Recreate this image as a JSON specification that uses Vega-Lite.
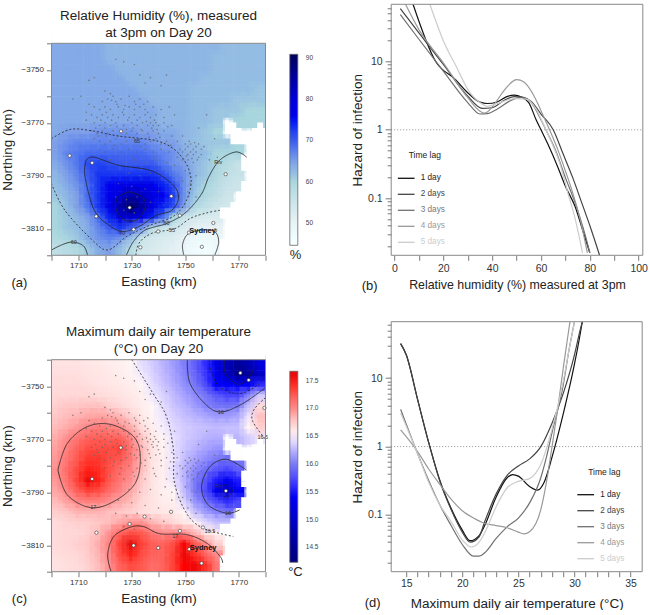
{"$schema":"https://vega.github.io/schema/vega-lite/v6.json","padding":{"left":0.5,"top":2.3,"right":0,"bottom":0},"background":"white","config":{"font":"Liberation Sans","view":{"stroke":null},"axis":{"domain":false,"grid":false,"tickColor":"#555","tickSize":5,"tickWidth":0.8,"labelColor":"#333","labelFontSize":8,"labelOverlap":false,"labelFlush":false,"labelBound":false,"titleFontSize":13.5,"titleFontWeight":"normal","titleColor":"#222","labelPadding":3}},
"datasets":{
"rh":[
{"x":1702,"y":-3742,"v":64},{"x":1706,"y":-3742,"v":64},{"x":1710,"y":-3742,"v":64},{"x":1714,"y":-3742,"v":64},{"x":1718,"y":-3742,"v":64},{"x":1722,"y":-3742,"v":63},{"x":1726,"y":-3742,"v":63},{"x":1730,"y":-3742,"v":63},{"x":1734,"y":-3742,"v":63},{"x":1738,"y":-3742,"v":63},{"x":1742,"y":-3742,"v":63},{"x":1746,"y":-3742,"v":63},{"x":1750,"y":-3742,"v":63},{"x":1754,"y":-3742,"v":63},{"x":1758,"y":-3742,"v":63},{"x":1762,"y":-3742,"v":63},{"x":1766,"y":-3742,"v":62},{"x":1770,"y":-3742,"v":62},{"x":1774,"y":-3742,"v":62},{"x":1778,"y":-3742,"v":62},
{"x":1702,"y":-3746,"v":64},{"x":1706,"y":-3746,"v":64},{"x":1710,"y":-3746,"v":64},{"x":1714,"y":-3746,"v":64},{"x":1718,"y":-3746,"v":64},{"x":1722,"y":-3746,"v":63},{"x":1726,"y":-3746,"v":63},{"x":1730,"y":-3746,"v":63},{"x":1734,"y":-3746,"v":63},{"x":1738,"y":-3746,"v":63},{"x":1742,"y":-3746,"v":63},{"x":1746,"y":-3746,"v":63},{"x":1750,"y":-3746,"v":63},{"x":1754,"y":-3746,"v":63},{"x":1758,"y":-3746,"v":63},{"x":1762,"y":-3746,"v":62},{"x":1766,"y":-3746,"v":62},{"x":1770,"y":-3746,"v":62},{"x":1774,"y":-3746,"v":62},{"x":1778,"y":-3746,"v":62},
{"x":1702,"y":-3750,"v":64},{"x":1706,"y":-3750,"v":64},{"x":1710,"y":-3750,"v":64},{"x":1714,"y":-3750,"v":64},{"x":1718,"y":-3750,"v":64},{"x":1722,"y":-3750,"v":64},{"x":1726,"y":-3750,"v":63},{"x":1730,"y":-3750,"v":63},{"x":1734,"y":-3750,"v":63},{"x":1738,"y":-3750,"v":63},{"x":1742,"y":-3750,"v":63},{"x":1746,"y":-3750,"v":63},{"x":1750,"y":-3750,"v":63},{"x":1754,"y":-3750,"v":63},{"x":1758,"y":-3750,"v":63},{"x":1762,"y":-3750,"v":62},{"x":1766,"y":-3750,"v":62},{"x":1770,"y":-3750,"v":62},{"x":1774,"y":-3750,"v":62},{"x":1778,"y":-3750,"v":62},
{"x":1702,"y":-3754,"v":64},{"x":1706,"y":-3754,"v":64},{"x":1710,"y":-3754,"v":64},{"x":1714,"y":-3754,"v":64},{"x":1718,"y":-3754,"v":64},{"x":1722,"y":-3754,"v":64},{"x":1726,"y":-3754,"v":64},{"x":1730,"y":-3754,"v":63},{"x":1734,"y":-3754,"v":63},{"x":1738,"y":-3754,"v":63},{"x":1742,"y":-3754,"v":63},{"x":1746,"y":-3754,"v":63},{"x":1750,"y":-3754,"v":63},{"x":1754,"y":-3754,"v":63},{"x":1758,"y":-3754,"v":62},{"x":1762,"y":-3754,"v":62},{"x":1766,"y":-3754,"v":62},{"x":1770,"y":-3754,"v":62},{"x":1774,"y":-3754,"v":62},{"x":1778,"y":-3754,"v":62},
{"x":1702,"y":-3758,"v":64},{"x":1706,"y":-3758,"v":64},{"x":1710,"y":-3758,"v":64},{"x":1714,"y":-3758,"v":64},{"x":1718,"y":-3758,"v":64},{"x":1722,"y":-3758,"v":64},{"x":1726,"y":-3758,"v":64},{"x":1730,"y":-3758,"v":64},{"x":1734,"y":-3758,"v":63},{"x":1738,"y":-3758,"v":63},{"x":1742,"y":-3758,"v":63},{"x":1746,"y":-3758,"v":63},{"x":1750,"y":-3758,"v":63},{"x":1754,"y":-3758,"v":62},{"x":1758,"y":-3758,"v":62},{"x":1762,"y":-3758,"v":62},{"x":1766,"y":-3758,"v":62},{"x":1770,"y":-3758,"v":62},{"x":1774,"y":-3758,"v":62},{"x":1778,"y":-3758,"v":61},
{"x":1702,"y":-3762,"v":64},{"x":1706,"y":-3762,"v":64},{"x":1710,"y":-3762,"v":64},{"x":1714,"y":-3762,"v":64},{"x":1718,"y":-3762,"v":64},{"x":1722,"y":-3762,"v":64},{"x":1726,"y":-3762,"v":64},{"x":1730,"y":-3762,"v":64},{"x":1734,"y":-3762,"v":64},{"x":1738,"y":-3762,"v":63},{"x":1742,"y":-3762,"v":63},{"x":1746,"y":-3762,"v":63},{"x":1750,"y":-3762,"v":63},{"x":1754,"y":-3762,"v":62},{"x":1758,"y":-3762,"v":62},{"x":1762,"y":-3762,"v":62},{"x":1766,"y":-3762,"v":62},{"x":1770,"y":-3762,"v":61},{"x":1774,"y":-3762,"v":61},{"x":1778,"y":-3762,"v":61},
{"x":1702,"y":-3766,"v":64},{"x":1706,"y":-3766,"v":64},{"x":1710,"y":-3766,"v":64},{"x":1714,"y":-3766,"v":64},{"x":1718,"y":-3766,"v":64},{"x":1722,"y":-3766,"v":64},{"x":1726,"y":-3766,"v":64},{"x":1730,"y":-3766,"v":64},{"x":1734,"y":-3766,"v":64},{"x":1738,"y":-3766,"v":64},{"x":1742,"y":-3766,"v":63},{"x":1746,"y":-3766,"v":63},{"x":1750,"y":-3766,"v":63},{"x":1754,"y":-3766,"v":62},{"x":1758,"y":-3766,"v":62},{"x":1762,"y":-3766,"v":61},{"x":1766,"y":-3766,"v":61},{"x":1770,"y":-3766,"v":61},{"x":1774,"y":-3766,"v":60},{"x":1778,"y":-3766,"v":60},
{"x":1702,"y":-3770,"v":64},{"x":1706,"y":-3770,"v":64},{"x":1710,"y":-3770,"v":64},{"x":1714,"y":-3770,"v":64},{"x":1718,"y":-3770,"v":64},{"x":1722,"y":-3770,"v":64},{"x":1726,"y":-3770,"v":64},{"x":1730,"y":-3770,"v":64},{"x":1734,"y":-3770,"v":64},{"x":1738,"y":-3770,"v":64},{"x":1742,"y":-3770,"v":63},{"x":1746,"y":-3770,"v":63},{"x":1750,"y":-3770,"v":63},{"x":1754,"y":-3770,"v":62},{"x":1758,"y":-3770,"v":62},{"x":1762,"y":-3770,"v":61},{"x":1770,"y":-3770,"v":60},{"x":1774,"y":-3770,"v":60},{"x":1778,"y":-3770,"v":60},
{"x":1702,"y":-3774,"v":64},{"x":1706,"y":-3774,"v":65},{"x":1710,"y":-3774,"v":65},{"x":1714,"y":-3774,"v":65},{"x":1718,"y":-3774,"v":66},{"x":1722,"y":-3774,"v":66},{"x":1726,"y":-3774,"v":66},{"x":1730,"y":-3774,"v":66},{"x":1734,"y":-3774,"v":65},{"x":1738,"y":-3774,"v":65},{"x":1742,"y":-3774,"v":64},{"x":1746,"y":-3774,"v":64},{"x":1750,"y":-3774,"v":63},{"x":1754,"y":-3774,"v":62},{"x":1758,"y":-3774,"v":61},{"x":1762,"y":-3774,"v":60},
{"x":1702,"y":-3778,"v":65},{"x":1706,"y":-3778,"v":66},{"x":1710,"y":-3778,"v":67},{"x":1714,"y":-3778,"v":67},{"x":1718,"y":-3778,"v":67},{"x":1722,"y":-3778,"v":67},{"x":1726,"y":-3778,"v":67},{"x":1730,"y":-3778,"v":67},{"x":1734,"y":-3778,"v":67},{"x":1738,"y":-3778,"v":66},{"x":1742,"y":-3778,"v":65},{"x":1746,"y":-3778,"v":65},{"x":1750,"y":-3778,"v":63},{"x":1754,"y":-3778,"v":62},{"x":1758,"y":-3778,"v":61},{"x":1762,"y":-3778,"v":61},{"x":1766,"y":-3778,"v":61},{"x":1770,"y":-3778,"v":60},
{"x":1702,"y":-3782,"v":65},{"x":1706,"y":-3782,"v":67},{"x":1710,"y":-3782,"v":68},{"x":1714,"y":-3782,"v":69},{"x":1718,"y":-3782,"v":69},{"x":1722,"y":-3782,"v":69},{"x":1726,"y":-3782,"v":69},{"x":1730,"y":-3782,"v":69},{"x":1734,"y":-3782,"v":69},{"x":1738,"y":-3782,"v":68},{"x":1742,"y":-3782,"v":67},{"x":1746,"y":-3782,"v":66},{"x":1750,"y":-3782,"v":64},{"x":1754,"y":-3782,"v":63},{"x":1758,"y":-3782,"v":62},{"x":1762,"y":-3782,"v":60},{"x":1766,"y":-3782,"v":60},{"x":1770,"y":-3782,"v":60},
{"x":1702,"y":-3786,"v":64},{"x":1706,"y":-3786,"v":66},{"x":1710,"y":-3786,"v":68},{"x":1714,"y":-3786,"v":71},{"x":1718,"y":-3786,"v":72},{"x":1722,"y":-3786,"v":71},{"x":1726,"y":-3786,"v":70},{"x":1730,"y":-3786,"v":70},{"x":1734,"y":-3786,"v":70},{"x":1738,"y":-3786,"v":70},{"x":1742,"y":-3786,"v":68},{"x":1746,"y":-3786,"v":66},{"x":1750,"y":-3786,"v":65},{"x":1754,"y":-3786,"v":63},{"x":1758,"y":-3786,"v":61},{"x":1762,"y":-3786,"v":60},{"x":1766,"y":-3786,"v":58},{"x":1770,"y":-3786,"v":56},
{"x":1702,"y":-3790,"v":63},{"x":1706,"y":-3790,"v":65},{"x":1710,"y":-3790,"v":67},{"x":1714,"y":-3790,"v":70},{"x":1718,"y":-3790,"v":73},{"x":1722,"y":-3790,"v":73},{"x":1726,"y":-3790,"v":73},{"x":1730,"y":-3790,"v":73},{"x":1734,"y":-3790,"v":73},{"x":1738,"y":-3790,"v":73},{"x":1742,"y":-3790,"v":71},{"x":1746,"y":-3790,"v":68},{"x":1750,"y":-3790,"v":66},{"x":1754,"y":-3790,"v":63},{"x":1758,"y":-3790,"v":61},{"x":1762,"y":-3790,"v":59},{"x":1766,"y":-3790,"v":57},{"x":1770,"y":-3790,"v":56},
{"x":1702,"y":-3794,"v":62},{"x":1706,"y":-3794,"v":64},{"x":1710,"y":-3794,"v":66},{"x":1714,"y":-3794,"v":69},{"x":1718,"y":-3794,"v":73},{"x":1722,"y":-3794,"v":75},{"x":1726,"y":-3794,"v":76},{"x":1730,"y":-3794,"v":77},{"x":1734,"y":-3794,"v":77},{"x":1738,"y":-3794,"v":76},{"x":1742,"y":-3794,"v":74},{"x":1746,"y":-3794,"v":71},{"x":1750,"y":-3794,"v":66},{"x":1754,"y":-3794,"v":62},{"x":1758,"y":-3794,"v":60},{"x":1762,"y":-3794,"v":58},{"x":1766,"y":-3794,"v":56},{"x":1770,"y":-3794,"v":55},
{"x":1702,"y":-3798,"v":61},{"x":1706,"y":-3798,"v":63},{"x":1710,"y":-3798,"v":65},{"x":1714,"y":-3798,"v":69},{"x":1718,"y":-3798,"v":73},{"x":1722,"y":-3798,"v":76},{"x":1726,"y":-3798,"v":80},{"x":1730,"y":-3798,"v":84},{"x":1734,"y":-3798,"v":82},{"x":1738,"y":-3798,"v":78},{"x":1742,"y":-3798,"v":75},{"x":1746,"y":-3798,"v":72},{"x":1750,"y":-3798,"v":66},{"x":1754,"y":-3798,"v":61},{"x":1758,"y":-3798,"v":59},{"x":1762,"y":-3798,"v":57},{"x":1766,"y":-3798,"v":55},
{"x":1702,"y":-3802,"v":60},{"x":1706,"y":-3802,"v":62},{"x":1710,"y":-3802,"v":65},{"x":1714,"y":-3802,"v":68},{"x":1718,"y":-3802,"v":73},{"x":1722,"y":-3802,"v":77},{"x":1726,"y":-3802,"v":84},{"x":1730,"y":-3802,"v":90},{"x":1734,"y":-3802,"v":85},{"x":1738,"y":-3802,"v":79},{"x":1742,"y":-3802,"v":74},{"x":1746,"y":-3802,"v":71},{"x":1750,"y":-3802,"v":65},{"x":1754,"y":-3802,"v":59},{"x":1758,"y":-3802,"v":57},{"x":1762,"y":-3802,"v":55},{"x":1766,"y":-3802,"v":54},
{"x":1702,"y":-3806,"v":60},{"x":1706,"y":-3806,"v":61},{"x":1710,"y":-3806,"v":63},{"x":1714,"y":-3806,"v":65},{"x":1718,"y":-3806,"v":69},{"x":1722,"y":-3806,"v":74},{"x":1726,"y":-3806,"v":80},{"x":1730,"y":-3806,"v":81},{"x":1734,"y":-3806,"v":78},{"x":1738,"y":-3806,"v":74},{"x":1742,"y":-3806,"v":69},{"x":1746,"y":-3806,"v":60},{"x":1750,"y":-3806,"v":56},{"x":1754,"y":-3806,"v":54},{"x":1758,"y":-3806,"v":53},{"x":1762,"y":-3806,"v":53},
{"x":1702,"y":-3810,"v":60},{"x":1706,"y":-3810,"v":61},{"x":1710,"y":-3810,"v":62},{"x":1714,"y":-3810,"v":64},{"x":1718,"y":-3810,"v":67},{"x":1722,"y":-3810,"v":70},{"x":1726,"y":-3810,"v":73},{"x":1730,"y":-3810,"v":70},{"x":1734,"y":-3810,"v":66},{"x":1738,"y":-3810,"v":58},{"x":1742,"y":-3810,"v":56},{"x":1746,"y":-3810,"v":55},{"x":1750,"y":-3810,"v":53},{"x":1754,"y":-3810,"v":51},{"x":1758,"y":-3810,"v":50},{"x":1762,"y":-3810,"v":50},
{"x":1702,"y":-3814,"v":59},{"x":1706,"y":-3814,"v":60},{"x":1710,"y":-3814,"v":61},{"x":1714,"y":-3814,"v":64},{"x":1718,"y":-3814,"v":66},{"x":1722,"y":-3814,"v":67},{"x":1726,"y":-3814,"v":66},{"x":1730,"y":-3814,"v":62},{"x":1734,"y":-3814,"v":56},{"x":1738,"y":-3814,"v":54},{"x":1742,"y":-3814,"v":53},{"x":1746,"y":-3814,"v":52},{"x":1750,"y":-3814,"v":50},{"x":1754,"y":-3814,"v":48},{"x":1758,"y":-3814,"v":48},{"x":1762,"y":-3814,"v":49},
{"x":1702,"y":-3818,"v":57},{"x":1706,"y":-3818,"v":58},{"x":1710,"y":-3818,"v":59},{"x":1714,"y":-3818,"v":61},{"x":1718,"y":-3818,"v":64},{"x":1722,"y":-3818,"v":65},{"x":1726,"y":-3818,"v":62},{"x":1730,"y":-3818,"v":58},{"x":1734,"y":-3818,"v":54},{"x":1738,"y":-3818,"v":53},{"x":1742,"y":-3818,"v":52},{"x":1746,"y":-3818,"v":51},{"x":1750,"y":-3818,"v":49},{"x":1754,"y":-3818,"v":47},{"x":1758,"y":-3818,"v":46},{"x":1762,"y":-3818,"v":48}
],
"temp":[
{"x":1702,"y":-3742,"v":16.65},{"x":1706,"y":-3742,"v":16.65},{"x":1710,"y":-3742,"v":16.65},{"x":1714,"y":-3742,"v":16.62},{"x":1718,"y":-3742,"v":16.6},{"x":1722,"y":-3742,"v":16.58},{"x":1726,"y":-3742,"v":16.55},{"x":1730,"y":-3742,"v":16.5},{"x":1734,"y":-3742,"v":16.42},{"x":1738,"y":-3742,"v":16.35},{"x":1742,"y":-3742,"v":16.25},{"x":1746,"y":-3742,"v":16.15},{"x":1750,"y":-3742,"v":16.02},{"x":1754,"y":-3742,"v":15.85},{"x":1758,"y":-3742,"v":15.6},{"x":1762,"y":-3742,"v":15.25},{"x":1766,"y":-3742,"v":14.9},{"x":1770,"y":-3742,"v":14.55},{"x":1774,"y":-3742,"v":14.8},{"x":1778,"y":-3742,"v":15.2},
{"x":1702,"y":-3746,"v":16.68},{"x":1706,"y":-3746,"v":16.68},{"x":1710,"y":-3746,"v":16.68},{"x":1714,"y":-3746,"v":16.65},{"x":1718,"y":-3746,"v":16.62},{"x":1722,"y":-3746,"v":16.6},{"x":1726,"y":-3746,"v":16.57},{"x":1730,"y":-3746,"v":16.53},{"x":1734,"y":-3746,"v":16.47},{"x":1738,"y":-3746,"v":16.38},{"x":1742,"y":-3746,"v":16.28},{"x":1746,"y":-3746,"v":16.18},{"x":1750,"y":-3746,"v":16.05},{"x":1754,"y":-3746,"v":15.9},{"x":1758,"y":-3746,"v":15.65},{"x":1762,"y":-3746,"v":15.35},{"x":1766,"y":-3746,"v":15},{"x":1770,"y":-3746,"v":14.4},{"x":1774,"y":-3746,"v":14.55},{"x":1778,"y":-3746,"v":15},
{"x":1702,"y":-3750,"v":16.7},{"x":1706,"y":-3750,"v":16.7},{"x":1710,"y":-3750,"v":16.7},{"x":1714,"y":-3750,"v":16.68},{"x":1718,"y":-3750,"v":16.65},{"x":1722,"y":-3750,"v":16.62},{"x":1726,"y":-3750,"v":16.6},{"x":1730,"y":-3750,"v":16.56},{"x":1734,"y":-3750,"v":16.5},{"x":1738,"y":-3750,"v":16.42},{"x":1742,"y":-3750,"v":16.32},{"x":1746,"y":-3750,"v":16.22},{"x":1750,"y":-3750,"v":16.1},{"x":1754,"y":-3750,"v":15.98},{"x":1758,"y":-3750,"v":15.75},{"x":1762,"y":-3750,"v":15.5},{"x":1766,"y":-3750,"v":15.4},{"x":1770,"y":-3750,"v":15.4},{"x":1774,"y":-3750,"v":15.45},{"x":1778,"y":-3750,"v":15.6},
{"x":1702,"y":-3754,"v":16.72},{"x":1706,"y":-3754,"v":16.72},{"x":1710,"y":-3754,"v":16.72},{"x":1714,"y":-3754,"v":16.72},{"x":1718,"y":-3754,"v":16.7},{"x":1722,"y":-3754,"v":16.68},{"x":1726,"y":-3754,"v":16.65},{"x":1730,"y":-3754,"v":16.6},{"x":1734,"y":-3754,"v":16.55},{"x":1738,"y":-3754,"v":16.47},{"x":1742,"y":-3754,"v":16.38},{"x":1746,"y":-3754,"v":16.28},{"x":1750,"y":-3754,"v":16.18},{"x":1754,"y":-3754,"v":16.08},{"x":1758,"y":-3754,"v":15.98},{"x":1762,"y":-3754,"v":15.82},{"x":1766,"y":-3754,"v":15.72},{"x":1770,"y":-3754,"v":15.72},{"x":1774,"y":-3754,"v":16.05},{"x":1778,"y":-3754,"v":16.35},
{"x":1702,"y":-3758,"v":16.75},{"x":1706,"y":-3758,"v":16.78},{"x":1710,"y":-3758,"v":16.78},{"x":1714,"y":-3758,"v":16.8},{"x":1718,"y":-3758,"v":16.8},{"x":1722,"y":-3758,"v":16.75},{"x":1726,"y":-3758,"v":16.72},{"x":1730,"y":-3758,"v":16.65},{"x":1734,"y":-3758,"v":16.58},{"x":1738,"y":-3758,"v":16.5},{"x":1742,"y":-3758,"v":16.42},{"x":1746,"y":-3758,"v":16.32},{"x":1750,"y":-3758,"v":16.25},{"x":1754,"y":-3758,"v":16.15},{"x":1758,"y":-3758,"v":16.05},{"x":1762,"y":-3758,"v":15.98},{"x":1766,"y":-3758,"v":15.96},{"x":1770,"y":-3758,"v":16},{"x":1774,"y":-3758,"v":16.3},{"x":1778,"y":-3758,"v":16.7},
{"x":1702,"y":-3762,"v":16.78},{"x":1706,"y":-3762,"v":16.82},{"x":1710,"y":-3762,"v":16.85},{"x":1714,"y":-3762,"v":16.9},{"x":1718,"y":-3762,"v":16.92},{"x":1722,"y":-3762,"v":16.9},{"x":1726,"y":-3762,"v":16.85},{"x":1730,"y":-3762,"v":16.75},{"x":1734,"y":-3762,"v":16.62},{"x":1738,"y":-3762,"v":16.52},{"x":1742,"y":-3762,"v":16.45},{"x":1746,"y":-3762,"v":16.37},{"x":1750,"y":-3762,"v":16.3},{"x":1754,"y":-3762,"v":16.25},{"x":1758,"y":-3762,"v":16.2},{"x":1762,"y":-3762,"v":16.15},{"x":1766,"y":-3762,"v":16.15},{"x":1770,"y":-3762,"v":16.2},{"x":1774,"y":-3762,"v":16.45},{"x":1778,"y":-3762,"v":16.8},
{"x":1702,"y":-3766,"v":16.82},{"x":1706,"y":-3766,"v":16.88},{"x":1710,"y":-3766,"v":16.95},{"x":1714,"y":-3766,"v":17.03},{"x":1718,"y":-3766,"v":17.08},{"x":1722,"y":-3766,"v":17.05},{"x":1726,"y":-3766,"v":17},{"x":1730,"y":-3766,"v":16.88},{"x":1734,"y":-3766,"v":16.7},{"x":1738,"y":-3766,"v":16.56},{"x":1742,"y":-3766,"v":16.48},{"x":1746,"y":-3766,"v":16.4},{"x":1750,"y":-3766,"v":16.35},{"x":1754,"y":-3766,"v":16.32},{"x":1758,"y":-3766,"v":16.3},{"x":1762,"y":-3766,"v":16.28},{"x":1766,"y":-3766,"v":16.3},{"x":1770,"y":-3766,"v":16.3},{"x":1774,"y":-3766,"v":16.5},{"x":1778,"y":-3766,"v":16.75},
{"x":1702,"y":-3770,"v":16.88},{"x":1706,"y":-3770,"v":16.98},{"x":1710,"y":-3770,"v":17.1},{"x":1714,"y":-3770,"v":17.2},{"x":1718,"y":-3770,"v":17.22},{"x":1722,"y":-3770,"v":17.2},{"x":1726,"y":-3770,"v":17.2},{"x":1730,"y":-3770,"v":17.03},{"x":1734,"y":-3770,"v":16.8},{"x":1738,"y":-3770,"v":16.62},{"x":1742,"y":-3770,"v":16.52},{"x":1746,"y":-3770,"v":16.43},{"x":1750,"y":-3770,"v":16.35},{"x":1754,"y":-3770,"v":16.3},{"x":1758,"y":-3770,"v":16.25},{"x":1762,"y":-3770,"v":16.22},{"x":1770,"y":-3770,"v":16.25},{"x":1774,"y":-3770,"v":16.35},{"x":1778,"y":-3770,"v":16.45},
{"x":1702,"y":-3774,"v":16.92},{"x":1706,"y":-3774,"v":17.05},{"x":1710,"y":-3774,"v":17.2},{"x":1714,"y":-3774,"v":17.3},{"x":1718,"y":-3774,"v":17.3},{"x":1722,"y":-3774,"v":17.3},{"x":1726,"y":-3774,"v":17.35},{"x":1730,"y":-3774,"v":17.1},{"x":1734,"y":-3774,"v":16.85},{"x":1738,"y":-3774,"v":16.65},{"x":1742,"y":-3774,"v":16.53},{"x":1746,"y":-3774,"v":16.43},{"x":1750,"y":-3774,"v":16.33},{"x":1754,"y":-3774,"v":16.25},{"x":1758,"y":-3774,"v":16.18},{"x":1762,"y":-3774,"v":16.12},
{"x":1702,"y":-3778,"v":16.95},{"x":1706,"y":-3778,"v":17.1},{"x":1710,"y":-3778,"v":17.25},{"x":1714,"y":-3778,"v":17.38},{"x":1718,"y":-3778,"v":17.38},{"x":1722,"y":-3778,"v":17.3},{"x":1726,"y":-3778,"v":17.25},{"x":1730,"y":-3778,"v":17.1},{"x":1734,"y":-3778,"v":16.85},{"x":1738,"y":-3778,"v":16.65},{"x":1742,"y":-3778,"v":16.55},{"x":1746,"y":-3778,"v":16.45},{"x":1750,"y":-3778,"v":16.3},{"x":1754,"y":-3778,"v":16.18},{"x":1758,"y":-3778,"v":16.08},{"x":1762,"y":-3778,"v":16},{"x":1766,"y":-3778,"v":15.95},{"x":1770,"y":-3778,"v":15.98},
{"x":1702,"y":-3782,"v":16.98},{"x":1706,"y":-3782,"v":17.15},{"x":1710,"y":-3782,"v":17.32},{"x":1714,"y":-3782,"v":17.45},{"x":1718,"y":-3782,"v":17.42},{"x":1722,"y":-3782,"v":17.28},{"x":1726,"y":-3782,"v":17.15},{"x":1730,"y":-3782,"v":17.03},{"x":1734,"y":-3782,"v":16.82},{"x":1738,"y":-3782,"v":16.65},{"x":1742,"y":-3782,"v":16.55},{"x":1746,"y":-3782,"v":16.42},{"x":1750,"y":-3782,"v":16.25},{"x":1754,"y":-3782,"v":16.08},{"x":1758,"y":-3782,"v":15.95},{"x":1762,"y":-3782,"v":15.8},{"x":1766,"y":-3782,"v":15.7},{"x":1770,"y":-3782,"v":15.85},
{"x":1702,"y":-3786,"v":16.95},{"x":1706,"y":-3786,"v":17.12},{"x":1710,"y":-3786,"v":17.35},{"x":1714,"y":-3786,"v":17.6},{"x":1718,"y":-3786,"v":17.45},{"x":1722,"y":-3786,"v":17.25},{"x":1726,"y":-3786,"v":17.1},{"x":1730,"y":-3786,"v":16.98},{"x":1734,"y":-3786,"v":16.78},{"x":1738,"y":-3786,"v":16.65},{"x":1742,"y":-3786,"v":16.55},{"x":1746,"y":-3786,"v":16.45},{"x":1750,"y":-3786,"v":16.25},{"x":1754,"y":-3786,"v":16},{"x":1758,"y":-3786,"v":15.8},{"x":1762,"y":-3786,"v":15.55},{"x":1766,"y":-3786,"v":15.35},{"x":1770,"y":-3786,"v":15.55},
{"x":1702,"y":-3790,"v":16.9},{"x":1706,"y":-3790,"v":17.02},{"x":1710,"y":-3790,"v":17.22},{"x":1714,"y":-3790,"v":17.35},{"x":1718,"y":-3790,"v":17.3},{"x":1722,"y":-3790,"v":17.15},{"x":1726,"y":-3790,"v":17.02},{"x":1730,"y":-3790,"v":16.9},{"x":1734,"y":-3790,"v":16.75},{"x":1738,"y":-3790,"v":16.65},{"x":1742,"y":-3790,"v":16.55},{"x":1746,"y":-3790,"v":16.5},{"x":1750,"y":-3790,"v":16.28},{"x":1754,"y":-3790,"v":16},{"x":1758,"y":-3790,"v":15.75},{"x":1762,"y":-3790,"v":15.35},{"x":1766,"y":-3790,"v":14.95},{"x":1770,"y":-3790,"v":15.4},
{"x":1702,"y":-3794,"v":16.82},{"x":1706,"y":-3794,"v":16.92},{"x":1710,"y":-3794,"v":17.02},{"x":1714,"y":-3794,"v":17.05},{"x":1718,"y":-3794,"v":17.05},{"x":1722,"y":-3794,"v":16.98},{"x":1726,"y":-3794,"v":16.9},{"x":1730,"y":-3794,"v":16.82},{"x":1734,"y":-3794,"v":16.72},{"x":1738,"y":-3794,"v":16.65},{"x":1742,"y":-3794,"v":16.58},{"x":1746,"y":-3794,"v":16.55},{"x":1750,"y":-3794,"v":16.38},{"x":1754,"y":-3794,"v":16.12},{"x":1758,"y":-3794,"v":15.95},{"x":1762,"y":-3794,"v":15.75},{"x":1766,"y":-3794,"v":15.6},{"x":1770,"y":-3794,"v":15.75},
{"x":1702,"y":-3798,"v":16.75},{"x":1706,"y":-3798,"v":16.78},{"x":1710,"y":-3798,"v":16.85},{"x":1714,"y":-3798,"v":16.85},{"x":1718,"y":-3798,"v":16.85},{"x":1722,"y":-3798,"v":16.8},{"x":1726,"y":-3798,"v":16.78},{"x":1730,"y":-3798,"v":16.75},{"x":1734,"y":-3798,"v":16.7},{"x":1738,"y":-3798,"v":16.65},{"x":1742,"y":-3798,"v":16.62},{"x":1746,"y":-3798,"v":16.6},{"x":1750,"y":-3798,"v":16.5},{"x":1754,"y":-3798,"v":16.3},{"x":1758,"y":-3798,"v":16.15},{"x":1762,"y":-3798,"v":16.05},{"x":1766,"y":-3798,"v":16},
{"x":1702,"y":-3802,"v":16.7},{"x":1706,"y":-3802,"v":16.73},{"x":1710,"y":-3802,"v":16.75},{"x":1714,"y":-3802,"v":16.75},{"x":1718,"y":-3802,"v":16.78},{"x":1722,"y":-3802,"v":16.82},{"x":1726,"y":-3802,"v":16.9},{"x":1730,"y":-3802,"v":16.98},{"x":1734,"y":-3802,"v":16.98},{"x":1738,"y":-3802,"v":16.85},{"x":1742,"y":-3802,"v":16.78},{"x":1746,"y":-3802,"v":16.72},{"x":1750,"y":-3802,"v":16.62},{"x":1754,"y":-3802,"v":16.52},{"x":1758,"y":-3802,"v":16.4},{"x":1762,"y":-3802,"v":16.3},{"x":1766,"y":-3802,"v":16.3},
{"x":1702,"y":-3806,"v":16.7},{"x":1706,"y":-3806,"v":16.72},{"x":1710,"y":-3806,"v":16.72},{"x":1714,"y":-3806,"v":16.75},{"x":1718,"y":-3806,"v":16.82},{"x":1722,"y":-3806,"v":16.98},{"x":1726,"y":-3806,"v":17.2},{"x":1730,"y":-3806,"v":17.3},{"x":1734,"y":-3806,"v":17.25},{"x":1738,"y":-3806,"v":17.1},{"x":1742,"y":-3806,"v":17},{"x":1746,"y":-3806,"v":17.02},{"x":1750,"y":-3806,"v":17},{"x":1754,"y":-3806,"v":16.85},{"x":1758,"y":-3806,"v":16.65},{"x":1762,"y":-3806,"v":16.55},
{"x":1702,"y":-3810,"v":16.7},{"x":1706,"y":-3810,"v":16.72},{"x":1710,"y":-3810,"v":16.75},{"x":1714,"y":-3810,"v":16.78},{"x":1718,"y":-3810,"v":16.88},{"x":1722,"y":-3810,"v":17.05},{"x":1726,"y":-3810,"v":17.35},{"x":1730,"y":-3810,"v":17.65},{"x":1734,"y":-3810,"v":17.35},{"x":1738,"y":-3810,"v":17.22},{"x":1742,"y":-3810,"v":17.2},{"x":1746,"y":-3810,"v":17.3},{"x":1750,"y":-3810,"v":17.55},{"x":1754,"y":-3810,"v":17.25},{"x":1758,"y":-3810,"v":17},{"x":1762,"y":-3810,"v":16.75},
{"x":1702,"y":-3814,"v":16.68},{"x":1706,"y":-3814,"v":16.7},{"x":1710,"y":-3814,"v":16.72},{"x":1714,"y":-3814,"v":16.76},{"x":1718,"y":-3814,"v":16.85},{"x":1722,"y":-3814,"v":17.02},{"x":1726,"y":-3814,"v":17.3},{"x":1730,"y":-3814,"v":17.45},{"x":1734,"y":-3814,"v":17.3},{"x":1738,"y":-3814,"v":17.2},{"x":1742,"y":-3814,"v":17.2},{"x":1746,"y":-3814,"v":17.35},{"x":1750,"y":-3814,"v":17.6},{"x":1754,"y":-3814,"v":17.4},{"x":1758,"y":-3814,"v":17.2},{"x":1762,"y":-3814,"v":17},
{"x":1702,"y":-3818,"v":16.65},{"x":1706,"y":-3818,"v":16.68},{"x":1710,"y":-3818,"v":16.7},{"x":1714,"y":-3818,"v":16.74},{"x":1718,"y":-3818,"v":16.82},{"x":1722,"y":-3818,"v":16.98},{"x":1726,"y":-3818,"v":17.2},{"x":1730,"y":-3818,"v":17.3},{"x":1734,"y":-3818,"v":17.25},{"x":1738,"y":-3818,"v":17.15},{"x":1742,"y":-3818,"v":17.2},{"x":1746,"y":-3818,"v":17.35},{"x":1750,"y":-3818,"v":17.5},{"x":1754,"y":-3818,"v":17.6},{"x":1758,"y":-3818,"v":17.4},{"x":1762,"y":-3818,"v":17.1}
],
"mask":[{"x":1766,"y":-3771},{"x":1768,"y":-3771},{"x":1778,"y":-3771},{"x":1766,"y":-3773},{"x":1768,"y":-3773},{"x":1770,"y":-3773},{"x":1776,"y":-3773},{"x":1778,"y":-3773},{"x":1780,"y":-3773},{"x":1768,"y":-3775},{"x":1770,"y":-3775},{"x":1772,"y":-3775},{"x":1774,"y":-3775},{"x":1776,"y":-3775},{"x":1778,"y":-3775},{"x":1780,"y":-3775},{"x":1768,"y":-3777},{"x":1770,"y":-3777},{"x":1772,"y":-3777},{"x":1774,"y":-3777},{"x":1776,"y":-3777},{"x":1778,"y":-3777},{"x":1780,"y":-3777},{"x":1774,"y":-3779},{"x":1776,"y":-3779},{"x":1778,"y":-3779},{"x":1780,"y":-3779},{"x":1776,"y":-3781},{"x":1778,"y":-3781},{"x":1780,"y":-3781},{"x":1772,"y":-3783},{"x":1776,"y":-3783},{"x":1778,"y":-3783},{"x":1780,"y":-3783},{"x":1772,"y":-3785},{"x":1774,"y":-3785},{"x":1776,"y":-3785},{"x":1778,"y":-3785},{"x":1780,"y":-3785},{"x":1772,"y":-3787},{"x":1774,"y":-3787},{"x":1776,"y":-3787},{"x":1778,"y":-3787},{"x":1780,"y":-3787},{"x":1774,"y":-3789},{"x":1776,"y":-3789},{"x":1778,"y":-3789},{"x":1780,"y":-3789},{"x":1774,"y":-3791},{"x":1776,"y":-3791},{"x":1778,"y":-3791},{"x":1780,"y":-3791},{"x":1772,"y":-3793},{"x":1774,"y":-3793},{"x":1776,"y":-3793},{"x":1778,"y":-3793},{"x":1780,"y":-3793},{"x":1772,"y":-3795},{"x":1774,"y":-3795},{"x":1776,"y":-3795},{"x":1778,"y":-3795},{"x":1780,"y":-3795},{"x":1770,"y":-3797},{"x":1772,"y":-3797},{"x":1774,"y":-3797},{"x":1776,"y":-3797},{"x":1778,"y":-3797},{"x":1780,"y":-3797},{"x":1770,"y":-3799},{"x":1772,"y":-3799},{"x":1774,"y":-3799},{"x":1776,"y":-3799},{"x":1778,"y":-3799},{"x":1780,"y":-3799},{"x":1768,"y":-3801},{"x":1770,"y":-3801},{"x":1772,"y":-3801},{"x":1774,"y":-3801},{"x":1776,"y":-3801},{"x":1778,"y":-3801},{"x":1780,"y":-3801},{"x":1764,"y":-3803},{"x":1766,"y":-3803},{"x":1768,"y":-3803},{"x":1770,"y":-3803},{"x":1772,"y":-3803},{"x":1774,"y":-3803},{"x":1776,"y":-3803},{"x":1778,"y":-3803},{"x":1780,"y":-3803},{"x":1764,"y":-3805},{"x":1766,"y":-3805},{"x":1768,"y":-3805},{"x":1770,"y":-3805},{"x":1772,"y":-3805},{"x":1774,"y":-3805},{"x":1776,"y":-3805},{"x":1778,"y":-3805},{"x":1780,"y":-3805},{"x":1768,"y":-3807},{"x":1770,"y":-3807},{"x":1772,"y":-3807},{"x":1774,"y":-3807},{"x":1776,"y":-3807},{"x":1778,"y":-3807},{"x":1780,"y":-3807},{"x":1766,"y":-3809},{"x":1768,"y":-3809},{"x":1770,"y":-3809},{"x":1772,"y":-3809},{"x":1774,"y":-3809},{"x":1776,"y":-3809},{"x":1778,"y":-3809},{"x":1780,"y":-3809},{"x":1766,"y":-3811},{"x":1768,"y":-3811},{"x":1770,"y":-3811},{"x":1772,"y":-3811},{"x":1774,"y":-3811},{"x":1776,"y":-3811},{"x":1778,"y":-3811},{"x":1780,"y":-3811},{"x":1766,"y":-3813},{"x":1768,"y":-3813},{"x":1770,"y":-3813},{"x":1772,"y":-3813},{"x":1774,"y":-3813},{"x":1776,"y":-3813},{"x":1778,"y":-3813},{"x":1780,"y":-3813},{"x":1764,"y":-3815},{"x":1766,"y":-3815},{"x":1768,"y":-3815},{"x":1770,"y":-3815},{"x":1772,"y":-3815},{"x":1774,"y":-3815},{"x":1776,"y":-3815},{"x":1778,"y":-3815},{"x":1780,"y":-3815},{"x":1764,"y":-3817},{"x":1766,"y":-3817},{"x":1768,"y":-3817},{"x":1770,"y":-3817},{"x":1772,"y":-3817},{"x":1774,"y":-3817},{"x":1776,"y":-3817},{"x":1778,"y":-3817},{"x":1780,"y":-3817},{"x":1764,"y":-3819},{"x":1766,"y":-3819},{"x":1768,"y":-3819},{"x":1770,"y":-3819},{"x":1772,"y":-3819},{"x":1774,"y":-3819},{"x":1776,"y":-3819},{"x":1778,"y":-3819},{"x":1780,"y":-3819}],
"dots":[{"x":1724,"y":-3746},{"x":1727,"y":-3747},{"x":1731,"y":-3748},{"x":1733,"y":-3752},{"x":1737,"y":-3753},{"x":1735,"y":-3755},{"x":1741,"y":-3756},{"x":1743,"y":-3752},{"x":1714,"y":-3754},{"x":1716,"y":-3753},{"x":1708,"y":-3761},{"x":1711,"y":-3760},{"x":1720,"y":-3758},{"x":1722,"y":-3759},{"x":1723,"y":-3760},{"x":1721,"y":-3761},{"x":1719,"y":-3762},{"x":1724,"y":-3762},{"x":1726,"y":-3761},{"x":1729,"y":-3760},{"x":1731,"y":-3762},{"x":1733,"y":-3761},{"x":1736,"y":-3762},{"x":1714,"y":-3763},{"x":1716,"y":-3764},{"x":1718,"y":-3765},{"x":1720,"y":-3764},{"x":1722,"y":-3765},{"x":1725,"y":-3764},{"x":1727,"y":-3765},{"x":1729,"y":-3764},{"x":1731,"y":-3765},{"x":1733,"y":-3764},{"x":1735,"y":-3765},{"x":1738,"y":-3764},{"x":1741,"y":-3765},{"x":1744,"y":-3764},{"x":1713,"y":-3766},{"x":1715,"y":-3767},{"x":1717,"y":-3768},{"x":1719,"y":-3767},{"x":1721,"y":-3768},{"x":1723,"y":-3767},{"x":1725,"y":-3768},{"x":1727,"y":-3767},{"x":1729,"y":-3768},{"x":1731,"y":-3767},{"x":1733,"y":-3768},{"x":1735,"y":-3767},{"x":1737,"y":-3768},{"x":1739,"y":-3767},{"x":1742,"y":-3768},{"x":1746,"y":-3767},{"x":1713,"y":-3769},{"x":1716,"y":-3770},{"x":1718,"y":-3771},{"x":1720,"y":-3770},{"x":1722,"y":-3771},{"x":1724,"y":-3770},{"x":1727,"y":-3771},{"x":1730,"y":-3770},{"x":1732,"y":-3771},{"x":1734,"y":-3770},{"x":1736,"y":-3771},{"x":1737,"y":-3770},{"x":1738,"y":-3771},{"x":1739,"y":-3770},{"x":1740,"y":-3771},{"x":1742,"y":-3770},{"x":1745,"y":-3771},{"x":1715,"y":-3773},{"x":1717,"y":-3774},{"x":1719,"y":-3773},{"x":1721,"y":-3774},{"x":1723,"y":-3773},{"x":1725,"y":-3775},{"x":1728,"y":-3774},{"x":1730,"y":-3773},{"x":1732,"y":-3774},{"x":1734,"y":-3773},{"x":1736,"y":-3774},{"x":1738,"y":-3773},{"x":1740,"y":-3774},{"x":1742,"y":-3773},{"x":1745,"y":-3775},{"x":1749,"y":-3775},{"x":1716,"y":-3776},{"x":1718,"y":-3777},{"x":1720,"y":-3778},{"x":1722,"y":-3777},{"x":1724,"y":-3776},{"x":1726,"y":-3778},{"x":1728,"y":-3777},{"x":1731,"y":-3776},{"x":1732,"y":-3777},{"x":1733,"y":-3776},{"x":1735,"y":-3778},{"x":1737,"y":-3777},{"x":1739,"y":-3776},{"x":1741,"y":-3778},{"x":1743,"y":-3777},{"x":1747,"y":-3777},{"x":1750,"y":-3778},{"x":1751,"y":-3779},{"x":1752,"y":-3778},{"x":1753,"y":-3780},{"x":1754,"y":-3779},{"x":1755,"y":-3778},{"x":1756,"y":-3780},{"x":1757,"y":-3779},{"x":1748,"y":-3780},{"x":1749,"y":-3781},{"x":1750,"y":-3780},{"x":1751,"y":-3782},{"x":1752,"y":-3781},{"x":1753,"y":-3782},{"x":1754,"y":-3781},{"x":1755,"y":-3783},{"x":1756,"y":-3782},{"x":1747,"y":-3783},{"x":1749,"y":-3784},{"x":1751,"y":-3784},{"x":1753,"y":-3785},{"x":1718,"y":-3780},{"x":1720,"y":-3781},{"x":1723,"y":-3780},{"x":1726,"y":-3781},{"x":1729,"y":-3780},{"x":1732,"y":-3781},{"x":1735,"y":-3780},{"x":1738,"y":-3781},{"x":1741,"y":-3780},{"x":1744,"y":-3781},{"x":1722,"y":-3784},{"x":1727,"y":-3785},{"x":1731,"y":-3784},{"x":1735,"y":-3785},{"x":1739,"y":-3784},{"x":1743,"y":-3785},{"x":1746,"y":-3786},{"x":1750,"y":-3788},{"x":1729,"y":-3789},{"x":1733,"y":-3790},{"x":1737,"y":-3789},{"x":1741,"y":-3791},{"x":1745,"y":-3790},{"x":1749,"y":-3792},{"x":1752,"y":-3793},{"x":1754,"y":-3790},{"x":1725,"y":-3793},{"x":1730,"y":-3794},{"x":1735,"y":-3795},{"x":1740,"y":-3796},{"x":1745,"y":-3793},{"x":1751,"y":-3796},{"x":1754,"y":-3798},{"x":1724,"y":-3798},{"x":1728,"y":-3799},{"x":1732,"y":-3798},{"x":1737,"y":-3800},{"x":1742,"y":-3801},{"x":1727,"y":-3803},{"x":1731,"y":-3804},{"x":1758,"y":-3767},{"x":1755,"y":-3772},{"x":1761,"y":-3776},{"x":1759,"y":-3784},{"x":1762,"y":-3783},{"x":1722.5,"y":-3761.5},{"x":1724.5,"y":-3763},{"x":1726.5,"y":-3766},{"x":1728.5,"y":-3769},{"x":1730.5,"y":-3772},{"x":1726.5,"y":-3773},{"x":1720.5,"y":-3766},{"x":1722.5,"y":-3769},{"x":1718.5,"y":-3769},{"x":1716.5,"y":-3772},{"x":1720.5,"y":-3775},{"x":1723.5,"y":-3778.5},{"x":1729.5,"y":-3775.5},{"x":1733.5,"y":-3772.5},{"x":1735.5,"y":-3769.5},{"x":1737.5,"y":-3772},{"x":1738.5,"y":-3769},{"x":1739.5,"y":-3772.5},{"x":1736.5,"y":-3775.5},{"x":1733.5,"y":-3779},{"x":1730.5,"y":-3782.5},{"x":1725.5,"y":-3783},{"x":1740.5,"y":-3775.5},{"x":1743.5,"y":-3771.5},{"x":1744.5,"y":-3778.5},{"x":1738.5,"y":-3783},{"x":1742.5,"y":-3788},{"x":1751.5,"y":-3777},{"x":1753.5,"y":-3777.5},{"x":1750.5,"y":-3782.5},{"x":1752.5,"y":-3783.5},{"x":1754.5,"y":-3784},{"x":1727.5,"y":-3763.5},{"x":1731.5,"y":-3763},{"x":1734.5,"y":-3763},{"x":1717.5,"y":-3775},{"x":1720,"y":-3772},{"x":1724.5,"y":-3771.5},{"x":1728,"y":-3772.5},{"x":1732,"y":-3769},{"x":1736,"y":-3766}],
"st":[{"x":1706.8,"y":-3782.4},{"x":1715.2,"y":-3785.1},{"x":1726,"y":-3773.2},{"x":1716.7,"y":-3805.3},{"x":1729.2,"y":-3802},{"x":1730.7,"y":-3810.2},{"x":1733.2,"y":-3817},{"x":1739.9,"y":-3811},{"x":1744.8,"y":-3797.7},{"x":1748,"y":-3805},{"x":1751.4,"y":-3811.4},{"x":1756.2,"y":-3816.8},{"x":1760.5,"y":-3807.8},{"x":1761.2,"y":-3810.6},{"x":1765.1,"y":-3789.4}],
"stc":[{"x":1770.6,"y":-3745},{"x":1773.7,"y":-3747.7},{"x":1779.6,"y":-3758.2},{"x":1734.8,"y":-3799.2},{"x":1729.2,"y":-3802},{"x":1756.6,"y":-3803.3},{"x":1725.9,"y":-3773.2},{"x":1715.2,"y":-3785},{"x":1716.8,"y":-3805.3},{"x":1730.7,"y":-3810.1},{"x":1739.9,"y":-3811},{"x":1744.7,"y":-3797.4},{"x":1748,"y":-3804.6},{"x":1751.5,"y":-3811.5},{"x":1756.1,"y":-3816.8},{"x":1765.2,"y":-3789.5}],
"ca":[
{"c":"70","s":"s","o":1,"x":1713,"y":-3784},{"c":"70","s":"s","o":2,"x":1716,"y":-3783},{"c":"70","s":"s","o":3,"x":1725,"y":-3786},{"c":"70","s":"s","o":4,"x":1737,"y":-3788},{"c":"70","s":"s","o":5,"x":1745,"y":-3793},{"c":"70","s":"s","o":6,"x":1747.5,"y":-3798},{"c":"70","s":"s","o":7,"x":1745,"y":-3803},{"c":"70","s":"s","o":8,"x":1739,"y":-3805},{"c":"70","s":"s","o":9,"x":1733,"y":-3809},{"c":"70","s":"s","o":10,"x":1727,"y":-3811},{"c":"70","s":"s","o":11,"x":1722,"y":-3809},{"c":"70","s":"s","o":12,"x":1716,"y":-3803},{"c":"70","s":"s","o":13,"x":1712.5,"y":-3790},{"c":"70","s":"s","o":14,"x":1713,"y":-3784},
{"c":"65","s":"d","o":1,"x":1700,"y":-3776},{"c":"65","s":"d","o":2,"x":1707,"y":-3772.5},{"c":"65","s":"d","o":3,"x":1715,"y":-3773},{"c":"65","s":"d","o":4,"x":1725,"y":-3775},{"c":"65","s":"d","o":5,"x":1740,"y":-3777},{"c":"65","s":"d","o":6,"x":1748,"y":-3782},{"c":"65","s":"d","o":7,"x":1752,"y":-3790},{"c":"65","s":"d","o":8,"x":1751,"y":-3798},{"c":"65","s":"d","o":9,"x":1746,"y":-3805},{"c":"65","s":"d","o":10,"x":1736,"y":-3809},{"c":"65","s":"d","o":11,"x":1728,"y":-3813},{"c":"65","s":"d","o":12,"x":1721,"y":-3818},{"c":"65","s":"d","o":13,"x":1715,"y":-3814},{"c":"65","s":"d","o":14,"x":1705,"y":-3803},{"c":"65","s":"d","o":15,"x":1700,"y":-3793},
{"c":"60","s":"s","o":1,"x":1728,"y":-3820},{"c":"60","s":"s","o":2,"x":1730.5,"y":-3815},{"c":"60","s":"s","o":3,"x":1735,"y":-3810.5},{"c":"60","s":"s","o":4,"x":1743,"y":-3808},{"c":"60","s":"s","o":5,"x":1750,"y":-3804},{"c":"60","s":"s","o":6,"x":1756,"y":-3797},{"c":"60","s":"s","o":7,"x":1759,"y":-3790},{"c":"60","s":"s","o":8,"x":1763,"y":-3784},{"c":"60","s":"s","o":9,"x":1769,"y":-3781},{"c":"60","s":"s","o":10,"x":1773,"y":-3783},
{"c":"60b","s":"s","o":1,"x":1700,"y":-3818},{"c":"60b","s":"s","o":2,"x":1704,"y":-3816},{"c":"60b","s":"s","o":3,"x":1708,"y":-3815},{"c":"60b","s":"s","o":4,"x":1712,"y":-3816.5},{"c":"60b","s":"s","o":5,"x":1713.5,"y":-3820},
{"c":"55","s":"d","o":1,"x":1731.5,"y":-3820},{"c":"55","s":"d","o":2,"x":1733,"y":-3815},{"c":"55","s":"d","o":3,"x":1738,"y":-3811.5},{"c":"55","s":"d","o":4,"x":1746,"y":-3810},{"c":"55","s":"d","o":5,"x":1752,"y":-3806},{"c":"55","s":"d","o":6,"x":1758,"y":-3804},{"c":"55","s":"d","o":7,"x":1763,"y":-3803},
{"c":"50","s":"s","o":1,"x":1749.5,"y":-3820},{"c":"50","s":"s","o":2,"x":1749,"y":-3816},{"c":"50","s":"s","o":3,"x":1751,"y":-3812},{"c":"50","s":"s","o":4,"x":1756,"y":-3810.5},{"c":"50","s":"s","o":5,"x":1761,"y":-3811},{"c":"50","s":"s","o":6,"x":1762.5,"y":-3815},{"c":"50","s":"s","o":7,"x":1761,"y":-3820},
{"c":"80","s":"s","o":1,"x":1729,"y":-3796},{"c":"80","s":"s","o":2,"x":1734,"y":-3798},{"c":"80","s":"s","o":3,"x":1735,"y":-3802},{"c":"80","s":"s","o":4,"x":1732,"y":-3806.5},{"c":"80","s":"s","o":5,"x":1727,"y":-3806.5},{"c":"80","s":"s","o":6,"x":1724,"y":-3802},{"c":"80","s":"s","o":7,"x":1725,"y":-3798},{"c":"80","s":"s","o":8,"x":1729,"y":-3796}
],
"cc":[
{"c":"a","s":"s","o":1,"x":1702.4,"y":-3781.6},{"c":"a","s":"s","o":2,"x":1705.9,"y":-3771.6},{"c":"a","s":"s","o":3,"x":1713.3,"y":-3765.3},{"c":"a","s":"s","o":4,"x":1722,"y":-3764.4},{"c":"a","s":"s","o":5,"x":1730.7,"y":-3769},{"c":"a","s":"s","o":6,"x":1733.2,"y":-3776.6},{"c":"a","s":"s","o":7,"x":1731.3,"y":-3786.6},{"c":"a","s":"s","o":8,"x":1723.3,"y":-3793.5},{"c":"a","s":"s","o":9,"x":1714.6,"y":-3795.8},{"c":"a","s":"s","o":10,"x":1705.9,"y":-3791},{"c":"a","s":"s","o":11,"x":1702.4,"y":-3781.6},
{"c":"b","s":"s","o":1,"x":1722.3,"y":-3820},{"c":"b","s":"s","o":2,"x":1721,"y":-3813.6},{"c":"b","s":"s","o":3,"x":1723.3,"y":-3806.7},{"c":"b","s":"s","o":4,"x":1729.5,"y":-3803.2},{"c":"b","s":"s","o":5,"x":1734.4,"y":-3803},{"c":"b","s":"s","o":6,"x":1740.6,"y":-3805.7},{"c":"b","s":"s","o":7,"x":1750.5,"y":-3806},{"c":"b","s":"s","o":8,"x":1758,"y":-3809.2},{"c":"b","s":"s","o":9,"x":1763,"y":-3814.2},{"c":"b","s":"s","o":10,"x":1764,"y":-3816.7},
{"c":"c","s":"d","o":1,"x":1730,"y":-3740},{"c":"c","s":"d","o":2,"x":1738,"y":-3752.8},{"c":"c","s":"d","o":3,"x":1743,"y":-3761.5},{"c":"c","s":"d","o":4,"x":1745.6,"y":-3774},{"c":"c","s":"d","o":5,"x":1746,"y":-3786.6},{"c":"c","s":"d","o":6,"x":1750.5,"y":-3798},{"c":"c","s":"d","o":7,"x":1756.7,"y":-3803.6},{"c":"c","s":"d","o":8,"x":1768,"y":-3806.7},
{"c":"d","s":"s","o":1,"x":1750.8,"y":-3740},{"c":"d","s":"s","o":2,"x":1751.8,"y":-3749},{"c":"d","s":"s","o":3,"x":1758,"y":-3757.2},{"c":"d","s":"s","o":4,"x":1763.5,"y":-3759.7},{"c":"d","s":"s","o":5,"x":1771.6,"y":-3756.5},{"c":"d","s":"s","o":6,"x":1780,"y":-3750.5},
{"c":"e","s":"d","o":1,"x":1759,"y":-3740},{"c":"e","s":"d","o":2,"x":1759.5,"y":-3744},{"c":"e","s":"d","o":3,"x":1762.9,"y":-3750.3},{"c":"e","s":"d","o":4,"x":1770.3,"y":-3752.8},{"c":"e","s":"d","o":5,"x":1777.8,"y":-3749},{"c":"e","s":"d","o":6,"x":1780,"y":-3745},
{"c":"f","s":"s","o":1,"x":1764.7,"y":-3740},{"c":"f","s":"s","o":2,"x":1765,"y":-3745},{"c":"f","s":"s","o":3,"x":1770,"y":-3749.3},{"c":"f","s":"s","o":4,"x":1775,"y":-3745},{"c":"f","s":"s","o":5,"x":1775.4,"y":-3740},
{"c":"g","s":"s","o":1,"x":1772.8,"y":-3781.6},{"c":"g","s":"s","o":2,"x":1765.4,"y":-3777.6},{"c":"g","s":"s","o":3,"x":1759.2,"y":-3780.4},{"c":"g","s":"s","o":4,"x":1756.1,"y":-3787.9},{"c":"g","s":"s","o":5,"x":1758.6,"y":-3794.8},{"c":"g","s":"s","o":6,"x":1765.4,"y":-3797.9},{"c":"g","s":"s","o":7,"x":1770.3,"y":-3796.7},
{"c":"h","s":"d","o":1,"x":1765.2,"y":-3787},{"c":"h","s":"d","o":2,"x":1767.7,"y":-3789.5},{"c":"h","s":"d","o":3,"x":1765.2,"y":-3792},{"c":"h","s":"d","o":4,"x":1762.7,"y":-3789.5},{"c":"h","s":"d","o":5,"x":1765.2,"y":-3787},
{"c":"i","s":"d","o":1,"x":1780,"y":-3754.3},{"c":"i","s":"d","o":2,"x":1775.6,"y":-3759},{"c":"i","s":"d","o":3,"x":1775.3,"y":-3763.4},{"c":"i","s":"d","o":4,"x":1780,"y":-3770}
],
"hum":[
{"lag":"1 day","x":7.6,"y":68},{"lag":"1 day","x":16.8,"y":10},{"lag":"1 day","x":25,"y":5.4},{"lag":"1 day","x":30,"y":3.47},{"lag":"1 day","x":35,"y":2.53},{"lag":"1 day","x":38,"y":2.42},{"lag":"1 day","x":42,"y":2.55},{"lag":"1 day","x":46,"y":3.05},{"lag":"1 day","x":49,"y":3.2},{"lag":"1 day","x":52,"y":3},{"lag":"1 day","x":55,"y":2.5},{"lag":"1 day","x":58,"y":1.4},{"lag":"1 day","x":60,"y":1},{"lag":"1 day","x":63,"y":0.6},{"lag":"1 day","x":67,"y":0.28},{"lag":"1 day","x":70,"y":0.15},{"lag":"1 day","x":74,"y":0.075},{"lag":"1 day","x":77,"y":0.035},{"lag":"1 day","x":80,"y":0.016},
{"lag":"2 days","x":2.4,"y":59},{"lag":"2 days","x":10,"y":26},{"lag":"2 days","x":20,"y":9},{"lag":"2 days","x":30,"y":3.1},{"lag":"2 days","x":36,"y":2.05},{"lag":"2 days","x":40,"y":2.1},{"lag":"2 days","x":45,"y":2.7},{"lag":"2 days","x":49,"y":3.05},{"lag":"2 days","x":52,"y":3},{"lag":"2 days","x":56,"y":2.6},{"lag":"2 days","x":60,"y":1.7},{"lag":"2 days","x":65,"y":1},{"lag":"2 days","x":69,"y":0.45},{"lag":"2 days","x":73,"y":0.2},{"lag":"2 days","x":77,"y":0.08},{"lag":"2 days","x":80,"y":0.04},{"lag":"2 days","x":84,"y":0.0147},
{"lag":"3 days","x":2.4,"y":48},{"lag":"3 days","x":10,"y":21},{"lag":"3 days","x":20,"y":7.2},{"lag":"3 days","x":30,"y":2.5},{"lag":"3 days","x":35,"y":1.7},{"lag":"3 days","x":38,"y":1.72},{"lag":"3 days","x":42,"y":2},{"lag":"3 days","x":47,"y":2.6},{"lag":"3 days","x":52,"y":3},{"lag":"3 days","x":56,"y":2.5},{"lag":"3 days","x":60,"y":1.4},{"lag":"3 days","x":62,"y":1},{"lag":"3 days","x":66,"y":0.5},{"lag":"3 days","x":70,"y":0.2},{"lag":"3 days","x":74,"y":0.085},{"lag":"3 days","x":78,"y":0.03},{"lag":"3 days","x":80,"y":0.016},
{"lag":"4 days","x":4.5,"y":68},{"lag":"4 days","x":10,"y":29},{"lag":"4 days","x":20,"y":9.5},{"lag":"4 days","x":30,"y":2.95},{"lag":"4 days","x":35,"y":1.87},{"lag":"4 days","x":37,"y":1.75},{"lag":"4 days","x":41,"y":2.4},{"lag":"4 days","x":45,"y":3.8},{"lag":"4 days","x":50,"y":5.4},{"lag":"4 days","x":53,"y":5},{"lag":"4 days","x":57,"y":3.2},{"lag":"4 days","x":60,"y":1.9},{"lag":"4 days","x":63,"y":1.1},{"lag":"4 days","x":67,"y":0.5},{"lag":"4 days","x":70,"y":0.25},{"lag":"4 days","x":73,"y":0.12},{"lag":"4 days","x":76,"y":0.05},{"lag":"4 days","x":79,"y":0.016},
{"lag":"5 days","x":14.5,"y":68},{"lag":"5 days","x":20,"y":20},{"lag":"5 days","x":25.6,"y":8},{"lag":"5 days","x":30,"y":3.9},{"lag":"5 days","x":35,"y":2.5},{"lag":"5 days","x":38,"y":2.2},{"lag":"5 days","x":42,"y":2.4},{"lag":"5 days","x":46,"y":2.7},{"lag":"5 days","x":50,"y":2.85},{"lag":"5 days","x":54,"y":2.8},{"lag":"5 days","x":58,"y":2},{"lag":"5 days","x":61,"y":1.2},{"lag":"5 days","x":64,"y":0.7},{"lag":"5 days","x":68,"y":0.3},{"lag":"5 days","x":71,"y":0.12},{"lag":"5 days","x":74,"y":0.05},{"lag":"5 days","x":77,"y":0.016}
],
"tmx":[
{"lag":"1 day","x":14.5,"y":32},{"lag":"1 day","x":15,"y":22},{"lag":"1 day","x":16,"y":5},{"lag":"1 day","x":17,"y":1.15},{"lag":"1 day","x":18,"y":0.32},{"lag":"1 day","x":19,"y":0.125},{"lag":"1 day","x":20,"y":0.06},{"lag":"1 day","x":20.7,"y":0.042},{"lag":"1 day","x":21.5,"y":0.05},{"lag":"1 day","x":22,"y":0.07},{"lag":"1 day","x":23,"y":0.18},{"lag":"1 day","x":24,"y":0.35},{"lag":"1 day","x":24.5,"y":0.39},{"lag":"1 day","x":25,"y":0.37},{"lag":"1 day","x":26,"y":0.26},{"lag":"1 day","x":26.7,"y":0.23},{"lag":"1 day","x":27.3,"y":0.3},{"lag":"1 day","x":28,"y":0.7},{"lag":"1 day","x":29,"y":3},{"lag":"1 day","x":30,"y":16},{"lag":"1 day","x":30.4,"y":35},{"lag":"1 day","x":30.7,"y":67},
{"lag":"2 days","x":14.5,"y":32},{"lag":"2 days","x":15,"y":22},{"lag":"2 days","x":16,"y":5},{"lag":"2 days","x":17,"y":1.15},{"lag":"2 days","x":18,"y":0.31},{"lag":"2 days","x":19,"y":0.12},{"lag":"2 days","x":20,"y":0.056},{"lag":"2 days","x":20.7,"y":0.04},{"lag":"2 days","x":21.5,"y":0.048},{"lag":"2 days","x":22,"y":0.08},{"lag":"2 days","x":23,"y":0.2},{"lag":"2 days","x":24,"y":0.38},{"lag":"2 days","x":25,"y":0.52},{"lag":"2 days","x":26,"y":0.66},{"lag":"2 days","x":27,"y":1},{"lag":"2 days","x":28,"y":2.2},{"lag":"2 days","x":29,"y":6},{"lag":"2 days","x":30,"y":22},{"lag":"2 days","x":30.5,"y":50},{"lag":"2 days","x":30.7,"y":67},
{"lag":"3 days","x":14.5,"y":3.5},{"lag":"3 days","x":16,"y":0.8},{"lag":"3 days","x":17,"y":0.32},{"lag":"3 days","x":18,"y":0.14},{"lag":"3 days","x":19,"y":0.07},{"lag":"3 days","x":20,"y":0.037},{"lag":"3 days","x":21,"y":0.025},{"lag":"3 days","x":21.5,"y":0.025},{"lag":"3 days","x":22,"y":0.028},{"lag":"3 days","x":23,"y":0.045},{"lag":"3 days","x":24,"y":0.067},{"lag":"3 days","x":25,"y":0.09},{"lag":"3 days","x":26,"y":0.15},{"lag":"3 days","x":27,"y":0.35},{"lag":"3 days","x":27.5,"y":0.7},{"lag":"3 days","x":28,"y":1.6},{"lag":"3 days","x":29,"y":8},{"lag":"3 days","x":29.5,"y":25},{"lag":"3 days","x":30,"y":67},
{"lag":"4 days","x":14.5,"y":1.75},{"lag":"4 days","x":16,"y":0.85},{"lag":"4 days","x":17,"y":0.47},{"lag":"4 days","x":18,"y":0.28},{"lag":"4 days","x":19,"y":0.17},{"lag":"4 days","x":20,"y":0.115},{"lag":"4 days","x":21,"y":0.09},{"lag":"4 days","x":22,"y":0.075},{"lag":"4 days","x":23,"y":0.07},{"lag":"4 days","x":24,"y":0.065},{"lag":"4 days","x":25,"y":0.056},{"lag":"4 days","x":25.5,"y":0.053},{"lag":"4 days","x":26,"y":0.057},{"lag":"4 days","x":27,"y":0.12},{"lag":"4 days","x":27.5,"y":0.3},{"lag":"4 days","x":28,"y":1},{"lag":"4 days","x":28.5,"y":3.5},{"lag":"4 days","x":29,"y":14},{"lag":"4 days","x":29.4,"y":40},{"lag":"4 days","x":29.6,"y":67},
{"lag":"5 days","x":14.5,"y":3.1},{"lag":"5 days","x":16,"y":0.8},{"lag":"5 days","x":17,"y":0.3},{"lag":"5 days","x":18,"y":0.14},{"lag":"5 days","x":19,"y":0.08},{"lag":"5 days","x":20,"y":0.043},{"lag":"5 days","x":20.8,"y":0.034},{"lag":"5 days","x":21.5,"y":0.04},{"lag":"5 days","x":22,"y":0.055},{"lag":"5 days","x":23,"y":0.13},{"lag":"5 days","x":24,"y":0.25},{"lag":"5 days","x":25,"y":0.31},{"lag":"5 days","x":26,"y":0.34},{"lag":"5 days","x":27,"y":0.55},{"lag":"5 days","x":28,"y":1.8},{"lag":"5 days","x":29,"y":9},{"lag":"5 days","x":29.5,"y":25},{"lag":"5 days","x":30,"y":67}
]},
"concat":[
{"width":214,"height":251,"title":{"text":["Relative Humidity (%), measured","at 3pm on Day 20"],"fontSize":13.5,"fontWeight":"normal","color":"#222","lineHeight":16.7,"offset":-35,"anchor":"middle"},
"encoding":{"x":{"field":"x","type":"quantitative","title":"Easting (km)","scale":{"domain":[1700,1780],"nice":false,"zero":false},"axis":{"values":[1700,1710,1720,1730,1740,1750,1760,1770,1780],"labelExpr":"(datum.value-1710)%20==0?format(datum.value,'d'):''","titlePadding":5,"labelPadding":1}},"y":{"field":"y","type":"quantitative","title":"Northing (km)","scale":{"domain":[-3820,-3740],"nice":false,"zero":false,"range":[251,39]},"axis":{"values":[-3740,-3750,-3760,-3770,-3780,-3790,-3800,-3810,-3820],"labelExpr":"(datum.value+3750)%20==0&&datum.value<=-3750?format(datum.value,'d'):''","titlePadding":6.5}}},
"layer":[
{"data":{"name":"rh"},"mark":{"type":"rect","width":11,"height":10.9,"clip":true},"encoding":{"color":{"field":"v","type":"quantitative","scale":{"domain":[44.6,50,55,60,61,63,65,70,75,80,85,90.8],"range":["#ffffff","#e8f3f6","#cde5ea","#a9d6de","#9cc6e2","#8fb6e5","#7f9fe8","#3a5aee","#0000f0","#0000d8","#0000a0","#00005a"]},"legend":{"orient":"none","legendX":238.3,"legendY":50,"direction":"vertical","title":null,"values":[50,60,70,80,90],"gradientLength":191,"gradientThickness":8,"gradientStrokeColor":"#666","gradientStrokeWidth":0.8,"labelFontSize":6.5,"labelColor":"#444","labelOffset":8,"labelOverlap":false}}}},
{"data":{"name":"rh"},"mark":{"type":"rect","width":18,"height":18,"fillOpacity":0.3,"clip":true,"xOffset":-1,"yOffset":-1},"encoding":{"color":{"field":"v","type":"quantitative"}}},
{"data":{"name":"mask"},"mark":{"type":"rect","width":5.8,"height":5.7,"fill":"white","clip":true}},
{"data":{"values":[{"x":1700,"x2":1780,"y":-3740,"y2":-3736}]},"mark":{"type":"rect","fill":"white"},"encoding":{"x2":{"field":"x2"},"y2":{"field":"y2"}}},
{"data":{"name":"ca"},"mark":{"type":"line","interpolate":"cardinal","clip":true,"color":"#222","strokeWidth":0.8},"encoding":{"detail":{"field":"c"},"order":{"field":"o","type":"quantitative"},"strokeDash":{"field":"s","type":"nominal","scale":{"domain":["s","d"],"range":[[1,0],[2,2]]},"legend":null}}},
{"data":{"name":"dots"},"mark":{"type":"circle","size":2.5,"color":"#666","opacity":0.75,"clip":true}},
{"data":{"name":"st"},"mark":{"type":"point","filled":true,"shape":"circle","size":11,"fill":"white","opacity":1,"stroke":"#333","strokeWidth":0.6}},
{"data":{"values":[{"x":1708.3,"y":-3815,"t":"60"},{"x":1732,"y":-3777,"t":"65"},{"x":1726.4,"y":-3811.6,"t":"70"},{"x":1743,"y":-3807.8,"t":"60"},{"x":1745,"y":-3810.6,"t":"55"},{"x":1762.3,"y":-3784.7,"t":"Riv"}]},"mark":{"type":"text","fontSize":5.5,"color":"#333"},"encoding":{"text":{"field":"t"}}},
{"data":{"values":[{"x":1756.5,"y":-3810.9,"t":"Sydney"}]},"mark":{"type":"text","fontSize":7.5,"fontWeight":"bold","color":"#111"},"encoding":{"text":{"field":"t"}}},
{"data":{"values":[{"x":1688,"y":-3830.4,"t":"(a)"}]},"mark":{"type":"text","fontSize":13,"color":"#222"},"encoding":{"text":{"field":"t"}}},
{"data":{"values":[{"x":1791.2,"y":-3820,"t":"%"}]},"mark":{"type":"text","fontSize":13,"color":"#222"},"encoding":{"text":{"field":"t"}}},
{"data":{"values":[{"x":1700,"x2":1780,"y":-3820,"y2":-3740}]},"mark":{"type":"rect","fill":null,"stroke":"#888","strokeWidth":1},"encoding":{"x2":{"field":"x2"},"y2":{"field":"y2"}}}
]},
{"width":251.6,"height":251,
"encoding":{"x":{"field":"x","type":"quantitative","title":"Relative humidity (%) measured at 3pm","scale":{"domain":[-1.35,101.7],"nice":false,"zero":false},"axis":{"values":[0,10,20,30,40,50,60,70,80,90,100],"labelExpr":"datum.value%20==0?format(datum.value,'d'):''","labelFontSize":10.5,"titleFontSize":12.4,"titlePadding":5}},"y":{"field":"y","type":"quantitative","title":"Hazard of infection","scale":{"type":"log","domain":[0.0147,68],"nice":false},"axis":{"values":[0.02,0.03,0.04,0.05,0.06,0.07,0.08,0.09,0.1,0.2,0.3,0.4,0.5,0.6,0.7,0.8,0.9,1,2,3,4,5,6,7,8,9,10,20,30,40,50,60],"labelExpr":"datum.value==10?'10':datum.value==1?'1':datum.value==0.1?'0.1':''","labelFontSize":10.5,"tickSize":{"condition":{"test":"datum.value==10||datum.value==1||datum.value==0.1","value":6},"value":4},"titlePadding":3}}},
"layer":[
{"data":{"values":[{"x":-1.35,"y":1},{"x":101.7,"y":1}]},"mark":{"type":"line","color":"#888","strokeWidth":0.9,"strokeDash":[1,2]}},
{"data":{"name":"hum"},"mark":{"type":"line","interpolate":"monotone","clip":true,"strokeWidth":1.2},"encoding":{"color":{"field":"lag","type":"nominal","scale":{"domain":["1 day","2 days","3 days","4 days","5 days"],"range":["#111111","#444444","#707070","#999999","#cccccc"]},"legend":{"orient":"none","legendX":5.5,"legendY":147,"title":"Time lag","titleFontSize":8.5,"titleFontWeight":"normal","titleColor":"#222","titlePadding":9,"symbolType":"stroke","symbolSize":280,"symbolStrokeWidth":1.3,"rowPadding":3,"labelFontSize":8.2,"labelOffset":5,"encode":{"title":{"update":{"dx":{"value":12}}},"labels":{"update":{"fill":{"signal":"datum.value=='1 day'?'#222':datum.value=='2 days'?'#444':datum.value=='3 days'?'#777':datum.value=='4 days'?'#999':'#ccc'"}}}}}}}},
{"data":{"values":[{"x":-10.2,"y":0.00525,"t":"(b)"}]},"mark":{"type":"text","fontSize":13,"color":"#222"},"encoding":{"text":{"field":"t"}}},
{"data":{"values":[{"x":-1.35,"x2":101.7,"y":0.0147,"y2":68}]},"mark":{"type":"rect","fill":null,"stroke":"#888","strokeWidth":1},"encoding":{"x2":{"field":"x2"},"y2":{"field":"y2"}}}
]},
{"width":214,"height":250,"title":{"text":["Maximum daily air temperature","(°C) on Day 20"],"fontSize":13.5,"fontWeight":"normal","color":"#222","lineHeight":16.7,"offset":-34,"anchor":"middle"},
"encoding":{"x":{"field":"x","type":"quantitative","title":"Easting (km)","scale":{"domain":[1700,1780],"nice":false,"zero":false},"axis":{"values":[1700,1710,1720,1730,1740,1750,1760,1770,1780],"labelExpr":"(datum.value-1710)%20==0?format(datum.value,'d'):''","titlePadding":5,"labelPadding":2}},"y":{"field":"y","type":"quantitative","title":"Northing (km)","scale":{"domain":[-3820,-3740],"nice":false,"zero":false,"range":[250,38]},"axis":{"values":[-3740,-3750,-3760,-3770,-3780,-3790,-3800,-3810,-3820],"labelExpr":"(datum.value+3750)%20==0&&datum.value<=-3750?format(datum.value,'d'):''","titlePadding":6.5}}},
"layer":[
{"data":{"name":"temp"},"mark":{"type":"rect","width":11,"height":10.9,"clip":true},"encoding":{"color":{"field":"v","type":"quantitative","scale":{"domain":[14.23,15,15.5,16,16.5,16.7,17,17.5,17.67],"range":["#00007a","#0000c8","#0000ff","#7a7af5","#ffffff","#ffdcdc","#ff8a8a","#ff0000","#e01010"]},"legend":{"orient":"none","legendX":238.3,"legendY":49.6,"direction":"vertical","title":null,"values":[14.5,15,15.5,16,16.5,17,17.5],"format":".1f","gradientLength":191,"gradientThickness":8,"gradientStrokeColor":"#666","gradientStrokeWidth":0.8,"labelFontSize":6.5,"labelColor":"#444","labelOffset":8,"labelOverlap":false}}}},
{"data":{"name":"temp"},"mark":{"type":"rect","width":18,"height":18,"fillOpacity":0.3,"clip":true,"xOffset":-1,"yOffset":-1},"encoding":{"color":{"field":"v","type":"quantitative"}}},
{"data":{"name":"mask"},"mark":{"type":"rect","width":5.8,"height":5.7,"fill":"white","clip":true}},
{"data":{"values":[{"x":1700,"x2":1780,"y":-3740,"y2":-3736}]},"mark":{"type":"rect","fill":"white"},"encoding":{"x2":{"field":"x2"},"y2":{"field":"y2"}}},
{"data":{"name":"cc"},"mark":{"type":"line","interpolate":"cardinal","clip":true,"color":"#222","strokeWidth":0.8},"encoding":{"detail":{"field":"c"},"order":{"field":"o","type":"quantitative"},"strokeDash":{"field":"s","type":"nominal","scale":{"domain":["s","d"],"range":[[1,0],[2,2]]},"legend":null}}},
{"data":{"name":"dots"},"mark":{"type":"circle","size":2.5,"color":"#666","opacity":0.75,"clip":true}},
{"data":{"name":"stc"},"mark":{"type":"point","filled":true,"shape":"circle","size":11,"fill":"white","opacity":1,"stroke":"#333","strokeWidth":0.6}},
{"data":{"values":[{"x":1715.6,"y":-3795.5,"t":"17"},{"x":1763.3,"y":-3759.7,"t":"16"},{"x":1746.3,"y":-3806.7,"t":"17"},{"x":1759.2,"y":-3804.7,"t":"16.5"},{"x":1766,"y":-3798,"t":"16"},{"x":1779,"y":-3769,"t":"16.5"},{"x":1762.5,"y":-3787.5,"t":"Riv"}]},"mark":{"type":"text","fontSize":5.5,"color":"#333"},"encoding":{"text":{"field":"t"}}},
{"data":{"values":[{"x":1756.7,"y":-3810.9,"t":"Sydney"}]},"mark":{"type":"text","fontSize":7.5,"fontWeight":"bold","color":"#111"},"encoding":{"text":{"field":"t"}}},
{"data":{"values":[{"x":1688,"y":-3830.4,"t":"(c)"}]},"mark":{"type":"text","fontSize":13,"color":"#222"},"encoding":{"text":{"field":"t"}}},
{"data":{"values":[{"x":1791.2,"y":-3820,"t":"°C"}]},"mark":{"type":"text","fontSize":13,"color":"#222"},"encoding":{"text":{"field":"t"}}},
{"data":{"values":[{"x":1700,"x2":1780,"y":-3820,"y2":-3740}]},"mark":{"type":"rect","fill":null,"stroke":"#888","strokeWidth":1},"encoding":{"x2":{"field":"x2"},"y2":{"field":"y2"}}}
]},
{"width":251,"height":250,
"encoding":{"x":{"field":"x","type":"quantitative","title":"Maximum daily air temperature (°C)","scale":{"domain":[13.66,36.04],"nice":false,"zero":false},"axis":{"values":[15,16,17,18,19,20,21,22,23,24,25,26,27,28,29,30,31,32,33,34,35],"labelExpr":"datum.value%5==0?format(datum.value,'d'):''","labelFontSize":10.5,"titlePadding":7,"labelPadding":2}},"y":{"field":"y","type":"quantitative","title":"Hazard of infection","scale":{"type":"log","domain":[0.0148,67],"nice":false},"axis":{"values":[0.02,0.03,0.04,0.05,0.06,0.07,0.08,0.09,0.1,0.2,0.3,0.4,0.5,0.6,0.7,0.8,0.9,1,2,3,4,5,6,7,8,9,10,20,30,40,50,60],"labelExpr":"datum.value==10?'10':datum.value==1?'1':datum.value==0.1?'0.1':''","labelFontSize":10.5,"tickSize":{"condition":{"test":"datum.value==10||datum.value==1||datum.value==0.1","value":6},"value":4},"titlePadding":3}}},
"layer":[
{"data":{"values":[{"x":13.66,"y":1},{"x":36.04,"y":1}]},"mark":{"type":"line","color":"#888","strokeWidth":0.9,"strokeDash":[1,2]}},
{"data":{"name":"tmx"},"mark":{"type":"line","interpolate":"monotone","clip":true,"strokeWidth":1.2},"encoding":{"color":{"field":"lag","type":"nominal","scale":{"domain":["1 day","2 days","3 days","4 days","5 days"],"range":["#111111","#444444","#707070","#999999","#cccccc"]},"legend":{"orient":"none","legendX":185,"legendY":146,"title":"Time lag","titleFontSize":8.5,"titleFontWeight":"normal","titleColor":"#222","titlePadding":9,"symbolType":"stroke","symbolSize":280,"symbolStrokeWidth":1.3,"rowPadding":3,"labelFontSize":8.2,"labelOffset":5,"encode":{"title":{"update":{"dx":{"value":12}}},"labels":{"update":{"fill":{"signal":"datum.value=='1 day'?'#222':datum.value=='2 days'?'#444':datum.value=='3 days'?'#777':datum.value=='4 days'?'#999':'#ccc'"}}}}}}}},
{"data":{"values":[{"x":12,"y":0.0052,"t":"(d)"}]},"mark":{"type":"text","fontSize":13,"color":"#222"},"encoding":{"text":{"field":"t"}}},
{"data":{"values":[{"x":13.66,"x2":36.04,"y":0.0148,"y2":67}]},"mark":{"type":"rect","fill":null,"stroke":"#888","strokeWidth":1},"encoding":{"x2":{"field":"x2"},"y2":{"field":"y2"}}}
]}
],"columns":2,"spacing":{"row":66.4,"column":125.7},"bounds":"flush"}
